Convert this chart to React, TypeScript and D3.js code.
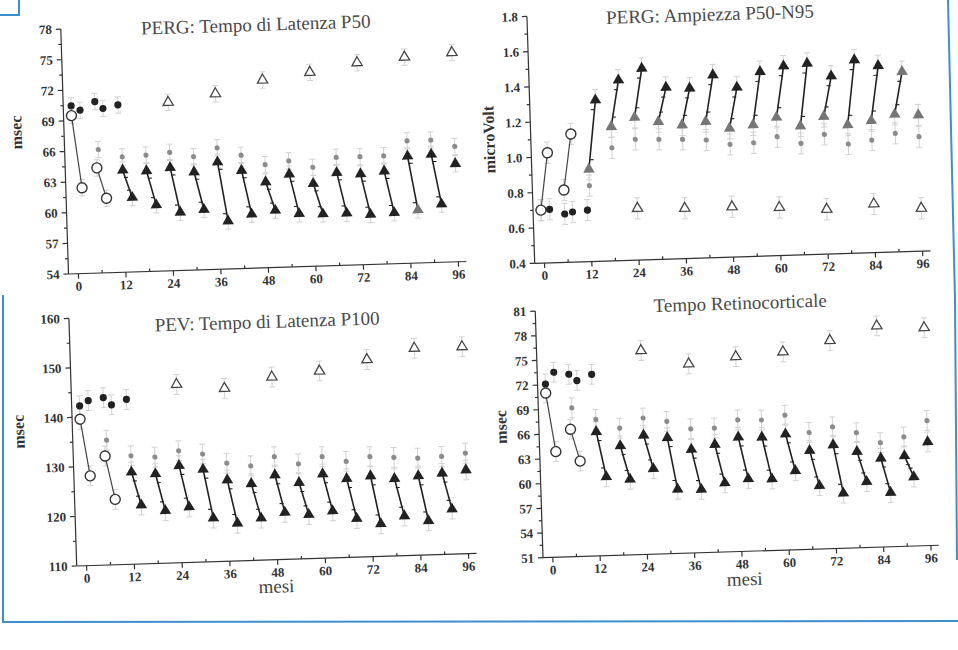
import * as d3 from "d3";

// mesi (x) comuni ai quattro pannelli
const xTicks = [0, 12, 24, 36, 48, 60, 72, 84, 96];
const dotMonths = [-0.5, 1.7, 5.5, 7.5, 11.3];
const circleStartMonths = [-0.5, 5.5];
const circleEndMonths = [1.6, 7.7];
const starMonths = [6, 12, 18, 24, 30, 36, 42, 48, 54, 60, 66, 72, 78, 84, 90, 96];
const ampStarMonths = [12, 18, 24, 30, 36, 42, 48, 54, 60, 66, 72, 78, 84, 90, 96];
const triStartMonths = [12, 18, 24, 30, 36, 42, 48, 54, 60, 66, 72, 78, 84, 90, 96];
const triEndMonths = [14.2, 20.2, 26.2, 32.2, 38.2, 44.2, 50.2, 56.2, 62.2, 68.2, 74.2, 80.2, 86.2, 92.2];
const openTriMonths = [24, 36, 48, 60, 72, 84, 96];

// PERG: Tempo di Latenza P50
const p50Ticks = [54, 57, 60, 63, 66, 69, 72, 75, 78];
const p50Dots = [70.45, 70.0, 70.8, 70.1, 70.4];
const p50CircleStart = [69.5, 64.3];
const p50CircleEnd = [62.4, 61.3];
const p50Stars = [66.1, 65.3, 65.4, 65.6, 65.1, 65.9, 65.1, 64.1, 64.4, 63.7, 64.6, 64.6, 64.6, 66.0, 66.0, 65.3];
const p50TriStart = [64.0, 63.85, 64.1, 63.6, 64.5, 63.6, 62.4, 63.1, 62.1, 63.1, 62.9, 63.1, 64.5, 64.6, 63.6];
const p50TriEnd = [61.3, 60.5, 59.7, 59.9, 58.7, 59.3, 59.6, 59.2, 59.1, 59.1, 58.9, 59.0, 59.2, 59.7];
const p50OpenTri = [70.5, 71.2, 72.4, 73.0, 73.8, 74.2, 74.5];

// PERG: Ampiezza P50-N95
const ampTicks = [0.4, 0.6, 0.8, 1.0, 1.2, 1.4, 1.6, 1.8];
const ampDots = [0.7, 0.703, 0.674, 0.684, 0.692];
const ampCircleStart = [0.7, 0.81];
const ampCircleEnd = [1.024, 1.126];
const ampStars = [0.83, 1.041, 1.085, 1.08, 1.076, 1.068, 1.039, 1.044, 1.074, 1.032, 1.079, 1.02, 1.038, 1.072, 1.049];
const ampTriStart = [0.923, 1.16, 1.209, 1.18, 1.157, 1.172, 1.13, 1.145, 1.184, 1.13, 1.18, 1.128, 1.148, 1.18, 1.172];
const ampTriEnd = [1.314, 1.423, 1.485, 1.373, 1.364, 1.435, 1.361, 1.445, 1.473, 1.484, 1.408, 1.495, 1.458, 1.42];
const ampOpenTri = [0.693, 0.685, 0.685, 0.673, 0.654, 0.676, 0.643];

// PEV: Tempo di Latenza P100
const p100Ticks = [110, 120, 130, 140, 150, 160];
const p100Dots = [142.3, 143.3, 143.8, 142.3, 143.3];
const p100CircleStart = [139.6, 132.0];
const p100CircleEnd = [128.1, 123.2];
const p100Stars = [135.2, 131.9, 131.5, 132.6, 131.8, 129.8, 129.1, 130.8, 129.2, 130.5, 129.4, 130.2, 129.9, 129.6, 129.8, 130.3];
const p100TriStart = [128.6, 128.1, 129.6, 128.7, 126.4, 125.5, 127.1, 125.4, 127.0, 125.9, 126.3, 125.6, 126.0, 126.4, 126.9];
const p100TriEnd = [121.9, 120.6, 121.2, 118.8, 117.6, 118.5, 119.5, 118.9, 119.5, 117.8, 116.6, 118.0, 116.9, 119.1];
const p100OpenTri = [146.0, 144.9, 146.9, 147.8, 149.8, 151.8, 151.8];

// Tempo Retinocorticale
const rctTicks = [51, 54, 57, 60, 63, 66, 69, 72, 75, 78, 81];
const rctDots = [72.1, 73.5, 73.2, 72.4, 73.1];
const rctCircleStart = [71.0, 66.5];
const rctCircleEnd = [63.85, 62.6];
const rctStars = [69.1, 67.6, 66.45, 67.6, 67.1, 66.1, 66.1, 67.0, 66.9, 67.4, 65.2, 65.8, 65.0, 63.7, 64.3, 66.2];
const rctTriStart = [66.1, 64.3, 65.5, 65.1, 63.6, 64.1, 64.9, 64.8, 65.1, 63.0, 63.6, 62.7, 61.8, 62.0, 63.6];
const rctTriEnd = [60.6, 60.2, 61.4, 58.8, 58.7, 59.4, 59.8, 59.7, 60.6, 58.7, 57.7, 59.0, 57.6, 59.4];
const rctOpenTri = [75.8, 74.0, 74.7, 75.1, 76.3, 77.9, 77.5];

const FONT = "'Liberation Serif', 'Times New Roman', serif";
const TILT = -1.8; // la scansione e' leggermente ruotata
const DARK = "#222";
const MID = "#767676";
const LIGHT = "#d2d2d2";

type PanelDef = {
  title: string;
  yLabel: string;
  xLabel?: string;
  corner: [number, number];
  width: number;
  height: number;
  yDomain: [number, number];
  yTicks: number[];
  fmt: (d: number) => string;
  dots: number[];
  circleStart: number[];
  circleEnd: number[];
  starMonths: number[];
  stars: number[];
  triStart: number[];
  triEnd: number[];
  openTri: number[];
  se: number;
  titleAt: [number, number];
  yLabelAt: [number, number];
  xLabelAt?: [number, number];
  startColor: string;
  grayEnd: number[];
};

const panels: PanelDef[] = [
  {
    title: "PERG: Tempo di Latenza P50", yLabel: "msec",
    corner: [68.5, 274], width: 398, height: 245, yDomain: [54, 78], yTicks: p50Ticks,
    fmt: (d) => String(d),
    dots: p50Dots, circleStart: p50CircleStart, circleEnd: p50CircleEnd,
    starMonths, stars: p50Stars, triStart: p50TriStart, triEnd: p50TriEnd, openTri: p50OpenTri,
    se: 0.8, titleAt: [195, -237], yLabelAt: [-46, -143], startColor: DARK, grayEnd: [12],
  },
  {
    title: "PERG: Ampiezza P50-N95", yLabel: "microVolt",
    corner: [534.7, 263.3], width: 396, height: 247, yDomain: [0.4, 1.8], yTicks: ampTicks,
    fmt: (d) => d.toFixed(1),
    dots: ampDots, circleStart: ampCircleStart, circleEnd: ampCircleEnd,
    starMonths: ampStarMonths, stars: ampStars, triStart: ampTriStart, triEnd: ampTriEnd, openTri: ampOpenTri,
    se: 0.06, titleAt: [183, -237], yLabelAt: [-40, -125], startColor: MID, grayEnd: [13],
  },
  {
    title: "PEV: Tempo di Latenza P100", yLabel: "msec", xLabel: "mesi",
    corner: [76.7, 566], width: 400, height: 247.7, yDomain: [110, 160], yTicks: p100Ticks,
    fmt: (d) => String(d),
    dots: p100Dots, circleStart: p100CircleStart, circleEnd: p100CircleEnd,
    starMonths, stars: p100Stars, triStart: p100TriStart, triEnd: p100TriEnd, openTri: p100OpenTri,
    se: 2.0, titleAt: [198, -232], yLabelAt: [-52, -136], xLabelAt: [199, 33], startColor: DARK, grayEnd: [],
  },
  {
    title: "Tempo Retinocorticale", yLabel: "msec", xLabel: "mesi",
    corner: [543, 557.7], width: 396, height: 246.7, yDomain: [51, 81], yTicks: rctTicks,
    fmt: (d) => String(d),
    dots: rctDots, circleStart: rctCircleStart, circleEnd: rctCircleEnd,
    starMonths, stars: rctStars, triStart: rctTriStart, triEnd: rctTriEnd, openTri: rctOpenTri,
    se: 1.2, titleAt: [205, -242], yLabelAt: [-36, -132], xLabelAt: [201, 34], startColor: DARK, grayEnd: [],
  },
];

function Panel({ p }: { p: PanelDef }) {
  const x = d3.scaleLinear().domain([-2.5, 98]).range([0, p.width]);
  const y = d3.scaleLinear().domain(p.yDomain).range([0, -p.height]);
  const triPath = d3.symbol(d3.symbolTriangle, 58)() as string;
  const openTriPath = d3.symbol(d3.symbolTriangle, 46)() as string;
  const line = d3.line<[number, number]>().x((d) => x(d[0])).y((d) => y(d[1]));
  const minorY = p.yTicks.slice(1).map((t, i) => (t + p.yTicks[i]) / 2);
  const minorX = xTicks.slice(1).map((t, i) => (t + xTicks[i]) / 2);

  const bars: JSX.Element[] = [];
  const bar = (m: number, v: number, dir: number, color: string, key: string) => {
    const y2 = y(v + dir * p.se);
    bars.push(
      <g key={key} stroke={color} strokeWidth={1}>
        <line x1={x(m)} x2={x(m)} y1={y(v)} y2={y2} />
        <line x1={x(m) - 3} x2={x(m) + 3} y1={y2} y2={y2} />
      </g>
    );
  };
  const both = (ms: number[], vs: number[], k: string) =>
    vs.forEach((v, i) => {
      bar(ms[i], v, 1, LIGHT, `${k}u${i}`);
      bar(ms[i], v, -1, LIGHT, `${k}d${i}`);
    });
  both(dotMonths, p.dots, "dot");
  both(circleStartMonths, p.circleStart, "cs");
  both(circleEndMonths, p.circleEnd, "ce");
  both(p.starMonths, p.stars, "st");
  both(openTriMonths, p.openTri, "ot");

  const darkBars: JSX.Element[] = [];
  p.triStart.forEach((v, i) => {
    const e = p.triEnd[i];
    if (e === undefined) {
      bar(triStartMonths[i], v, 1, LIGHT, `tsu${i}`);
      bar(triStartMonths[i], v, -1, LIGHT, `tsd${i}`);
      return;
    }
    const dir = Math.sign(e - v);
    bar(triStartMonths[i], v, -dir, LIGHT, `tsa${i}`);
    bar(triEndMonths[i], e, dir, LIGHT, `tea${i}`);
    const y1 = y(v + dir * p.se * 0.9);
    const y2 = y(e - dir * p.se * 0.9);
    darkBars.push(
      <g key={`db${i}`} stroke={DARK} strokeWidth={1.1}>
        <line x1={x(triStartMonths[i]) + 1} x2={x(triStartMonths[i]) + 5} y1={y1} y2={y1} />
        <line x1={x(triEndMonths[i]) - 5} x2={x(triEndMonths[i]) - 1} y1={y2} y2={y2} />
      </g>
    );
  });

  return (
    <g transform={`translate(${p.corner[0]},${p.corner[1]}) rotate(${TILT})`} fontFamily={FONT}>
      <text x={p.titleAt[0]} y={p.titleAt[1]} textAnchor="middle" fontSize={19} fill="#4a4a4a">
        {p.title}
      </text>
      <text
        transform={`translate(${p.yLabelAt[0]},${p.yLabelAt[1]}) rotate(-90)`}
        textAnchor="middle" dominantBaseline="middle" fontSize={16} fontWeight="bold" fill="#333"
      >
        {p.yLabel}
      </text>
      {p.xLabel && p.xLabelAt && (
        <text x={p.xLabelAt[0]} y={p.xLabelAt[1]} textAnchor="middle" fontSize={19} fill="#444">
          {p.xLabel}
        </text>
      )}

      {/* assi */}
      <g stroke="#333" strokeWidth={1.2}>
        <line x1={0} x2={0} y1={0} y2={-p.height} />
        <line x1={0} x2={p.width} y1={0} y2={0} />
        {p.yTicks.map((t) => (
          <line key={`yt${t}`} x1={-5} x2={0} y1={y(t)} y2={y(t)} />
        ))}
        {minorY.map((t) => (
          <line key={`ym${t}`} x1={-3} x2={0} y1={y(t)} y2={y(t)} />
        ))}
        {xTicks.map((t) => (
          <line key={`xt${t}`} x1={x(t)} x2={x(t)} y1={0} y2={5} />
        ))}
        {minorX.map((t) => (
          <line key={`xm${t}`} x1={x(t)} x2={x(t)} y1={0} y2={-3} />
        ))}
      </g>
      {p.yTicks.map((t) => (
        <text key={`yl${t}`} x={-9} y={y(t) + 4.5} textAnchor="end" fontSize={13} fontWeight="bold" fill="#333">
          {p.fmt(t)}
        </text>
      ))}
      {xTicks.map((t) => (
        <text key={`xl${t}`} x={x(t)} y={17} textAnchor="middle" fontSize={13} fontWeight="bold" fill="#333">
          {t}
        </text>
      ))}

      {bars}

      {/* linee che uniscono prima/dopo */}
      <g stroke={DARK} strokeWidth={1.6} fill="none">
        {p.circleStart.map((v, i) => (
          <path key={`cl${i}`} d={line([[circleStartMonths[i], v], [circleEndMonths[i], p.circleEnd[i]]]) as string} strokeWidth={1.2} stroke="#444" />
        ))}
        {p.triEnd.map((e, i) => (
          <path key={`tl${i}`} d={line([[triStartMonths[i], p.triStart[i]], [triEndMonths[i], e]]) as string} />
        ))}
      </g>
      {darkBars}

      {/* marcatori */}
      {p.stars.map((v, i) => (
        <circle key={`s${i}`} cx={x(p.starMonths[i])} cy={y(v)} r={2.6} fill="#8c8c8c" />
      ))}
      {p.dots.map((v, i) => (
        <circle key={`d${i}`} cx={x(dotMonths[i])} cy={y(v)} r={3.6} fill={DARK} />
      ))}
      {p.circleStart.map((v, i) => (
        <circle key={`oc${i}`} cx={x(circleStartMonths[i])} cy={y(v)} r={5} fill="#fff" stroke="#333" strokeWidth={1.4} />
      ))}
      {p.circleEnd.map((v, i) => (
        <circle key={`oe${i}`} cx={x(circleEndMonths[i])} cy={y(v)} r={5} fill="#fff" stroke="#333" strokeWidth={1.4} />
      ))}
      {p.triStart.map((v, i) => (
        <path key={`ts${i}`} d={triPath} transform={`translate(${x(triStartMonths[i])},${y(v)})`} fill={p.startColor} />
      ))}
      {p.triEnd.map((v, i) => (
        <path
          key={`te${i}`} d={triPath} transform={`translate(${x(triEndMonths[i])},${y(v)})`}
          fill={p.grayEnd.includes(i) ? MID : DARK}
        />
      ))}
      {p.openTri.map((v, i) => (
        <path
          key={`ot${i}`} d={openTriPath} transform={`translate(${x(openTriMonths[i])},${y(v)})`}
          fill="#fff" stroke="#444" strokeWidth={1.3}
        />
      ))}
    </g>
  );
}

export default function App() {
  return (
    <svg width={958} height={650} style={{ position: "absolute", left: 0, top: 0, display: "block" }}>
      <rect width={958} height={650} fill="#fff" />
      {/* cornice blu della scansione */}
      <g stroke="#3d8fcf" strokeWidth={2} fill="none">
        <path d="M0,15 L19,15 L19,0" />
        <path d="M948,0 L955,300 L957,560" />
        <path d="M3,295 L3,622 L958,621" />
      </g>
      {panels.map((p) => (
        <Panel key={p.title} p={p} />
      ))}
    </svg>
  );
}
